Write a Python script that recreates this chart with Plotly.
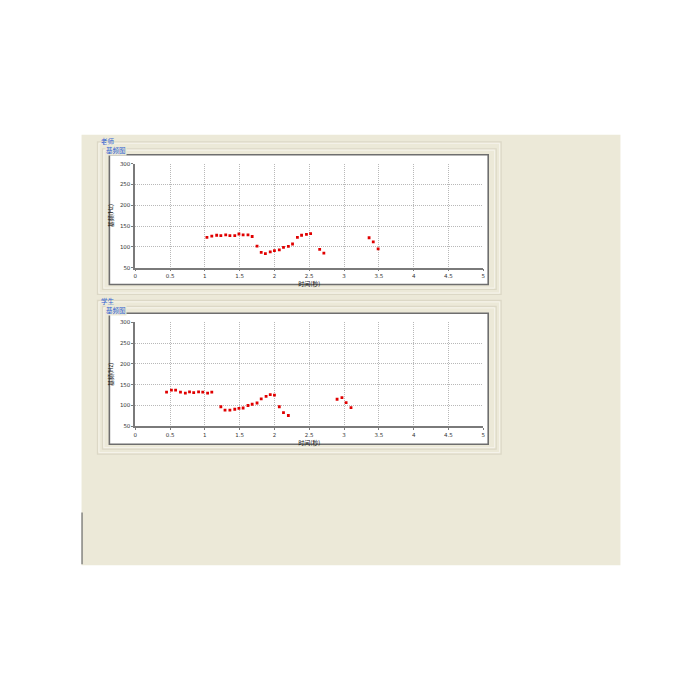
import plotly.graph_objects as go

# ---- data ----
teacher_t = [1.03, 1.10, 1.17, 1.23, 1.30, 1.36, 1.43, 1.49, 1.55, 1.62, 1.68, 1.75,
             1.81, 1.87, 1.94, 2.00, 2.07, 2.13, 2.20, 2.26, 2.33, 2.39, 2.46, 2.52,
             2.65, 2.71, 3.36, 3.42, 3.49]
teacher_f = [123, 126, 128, 127, 129, 127, 127, 131, 129, 129, 125, 102,
             87, 84, 88, 91, 93, 99, 101, 107, 123, 128, 130, 132,
             94, 85, 122, 112, 95]
student_t = [0.45, 0.52, 0.58, 0.65, 0.72, 0.78, 0.84, 0.91, 0.97, 1.04, 1.10,
             1.23, 1.29, 1.36, 1.43, 1.49, 1.55, 1.62, 1.68, 1.75, 1.81, 1.88,
             1.94, 2.00, 2.07, 2.13, 2.20, 2.90, 2.97, 3.03, 3.10]
student_f = [132, 137, 137, 132, 130, 133, 131, 133, 132, 130, 132,
             97, 89, 89, 91, 93, 94, 100, 103, 106, 116, 122,
             126, 125, 97, 83, 76, 115, 119, 107, 95]
x_ticks = [0, 0.5, 1, 1.5, 2, 2.5, 3, 3.5, 4, 4.5, 5]
x_tick_text = ["0", "0.5", "1", "1.5", "2", "2.5", "3", "3.5", "4", "4.5", "5"]
y_ticks = [50, 100, 150, 200, 250, 300]
panel_names = ["老师", "学生"]
chart_name = "基频图"
x_title = "时间(秒)"
y_title = "基频(Hz)"

W = H = 700
def px(x): return x / W
def py(y): return 1 - y / H

BG = "#ece9d8"
CJK = "Noto Sans CJK SC"

fig = go.Figure()

panels = [
    dict(t=teacher_t, f=teacher_f, name=panel_names[0], xa="x", ya="y",
         outer=(96, 140, 502, 294), inner=(101, 147, 497, 289),
         frame=(108, 153, 489, 284), plot=(134, 162, 484, 267),
         lab1=(99, 133.5), lab2=(104, 142.5)),
    dict(t=student_t, f=student_f, name=panel_names[1], xa="x2", ya="y2",
         outer=(96, 300, 502, 455), inner=(101, 306, 497, 450),
         frame=(108, 313, 489, 445), plot=(134, 322, 484, 427),
         lab1=(99, 294.5), lab2=(104, 303.5)),
]

shapes = []
annotations = []
# application background
shapes.append(dict(type="rect", xref="paper", yref="paper", x0=px(80), x1=px(622),
                   y0=py(567), y1=py(133), fillcolor=BG, line=dict(width=0), layer="below"))
shapes.append(dict(type="line", xref="paper", yref="paper", x0=px(80.5), x1=px(80.5),
                   y0=py(566), y1=py(514), line=dict(color="#6b6b6b", width=1.2)))

for i, p in enumerate(panels):
    ox0, oy0, ox1, oy1 = p["outer"]
    shapes.append(dict(type="rect", xref="paper", yref="paper", x0=px(ox0), x1=px(ox1),
                       y0=py(oy1), y1=py(oy0), fillcolor="rgba(0,0,0,0)",
                       line=dict(color="#dcd8c6", width=1.2), layer="below"))
    shapes.append(dict(type="rect", xref="paper", yref="paper", x0=px(ox0 + 1.5), x1=px(ox1 - 1.5),
                       y0=py(oy1 - 1.5), y1=py(oy0 + 1.5), fillcolor="rgba(0,0,0,0)",
                       line=dict(color="#f6f4ec", width=1), layer="below"))
    ix0, iy0, ix1, iy1 = p["inner"]
    shapes.append(dict(type="rect", xref="paper", yref="paper", x0=px(ix0), x1=px(ix1),
                       y0=py(iy1), y1=py(iy0), fillcolor="rgba(0,0,0,0)",
                       line=dict(color="#dcd8c6", width=1.2), layer="below"))
    shapes.append(dict(type="rect", xref="paper", yref="paper", x0=px(ix0 + 1.5), x1=px(ix1 - 1.5),
                       y0=py(iy1 - 1.5), y1=py(iy0 + 1.5), fillcolor="rgba(0,0,0,0)",
                       line=dict(color="#f6f4ec", width=1), layer="below"))
    fx0, fy0, fx1, fy1 = p["frame"]
    shapes.append(dict(type="rect", xref="paper", yref="paper", x0=px(fx0), x1=px(fx1),
                       y0=py(fy1), y1=py(fy0), fillcolor="white",
                       line=dict(color="#6e6e6e", width=1.6), layer="below"))
    # labels
    annotations.append(dict(xref="paper", yref="paper", x=px(p["lab1"][0]), y=py(p["lab1"][1]),
                            text=p["name"], showarrow=False, xanchor="left", yanchor="top",
                            font=dict(family=CJK, size=6.5, color="#2f5fd0"),
                            borderpad=0))
    annotations.append(dict(xref="paper", yref="paper", x=px(p["lab2"][0]), y=py(p["lab2"][1]),
                            text=chart_name, showarrow=False, xanchor="left", yanchor="top",
                            font=dict(family=CJK, size=6.5, color="#2f5fd0"), bgcolor=BG,
                            borderpad=0))
    fig.add_trace(go.Scatter(x=p["t"], y=p["f"], mode="markers", xaxis=p["xa"], yaxis=p["ya"],
                             marker=dict(symbol="square", size=2.8, color="#e00000",
                                         line=dict(width=0)),
                             showlegend=False, hoverinfo="x+y"))

axis_common = dict(showgrid=True, gridcolor="#b8b8b8", griddash="1px,1px", gridwidth=1,
                   showline=True, linecolor="#7a7a7a", linewidth=1.5, zeroline=False,
                   ticks="outside", ticklen=2, tickcolor="#7a7a7a",
                   tickfont=dict(family="DejaVu Sans", size=5.5, color="#333333"))

def xaxis(p, anchor):
    x0, y0, x1, y1 = p["plot"]
    return dict(domain=[px(x0), px(x1)], range=[0, 5], tickvals=x_ticks, ticktext=x_tick_text,
                anchor=anchor, title=dict(text=x_title, font=dict(family=CJK, size=6, color="#111"),
                                           standoff=2), **axis_common)

def yaxis(p, anchor):
    x0, y0, x1, y1 = p["plot"]
    return dict(domain=[py(y1), py(y0)], range=[50, 300], tickvals=y_ticks,
                anchor=anchor, title=dict(text=y_title, font=dict(family=CJK, size=6, color="#111"),
                                           standoff=6), **axis_common)

fig.update_layout(
    width=W, height=H, margin=dict(l=0, r=0, t=0, b=0),
    paper_bgcolor="white", plot_bgcolor="white",
    xaxis=xaxis(panels[0], "y"), yaxis=yaxis(panels[0], "x"),
    xaxis2=xaxis(panels[1], "y2"), yaxis2=yaxis(panels[1], "x2"),
    shapes=shapes, annotations=annotations,
)

fig.write_html("out.html", config=dict(displayModeBar=False),
               post_script="document.body.style.margin='0';document.body.style.padding='0';")
